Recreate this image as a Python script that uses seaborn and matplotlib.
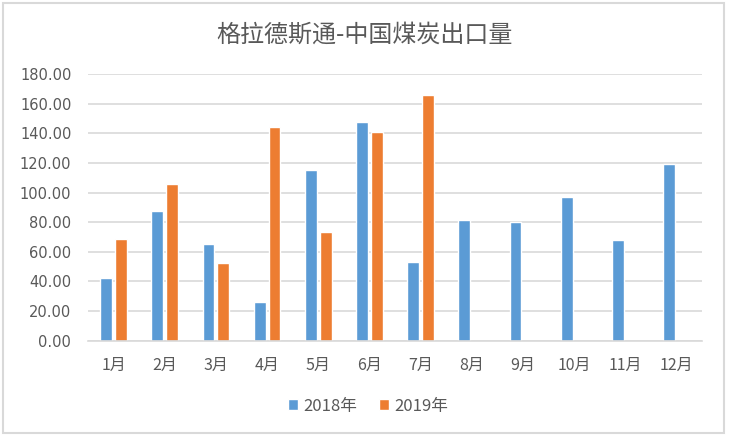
import matplotlib
matplotlib.use("Agg")
import matplotlib.pyplot as plt
import seaborn as sns
import pandas as pd
import numpy as np
from matplotlib.patches import Rectangle

months = ["1月", "2月", "3月", "4月", "5月", "6月", "7月", "8月", "9月", "10月", "11月", "12月"]
series_names = ["2018年", "2019年"]
values_2018 = [42.2, 87.6, 65.3, 26.2, 115.2, 147.6, 53.2, 81.5, 80.2, 97.2, 68.0, 119.5]
values_2019 = [68.7, 105.8, 52.5, 144.2, 73.4, 140.9, 165.9, np.nan, np.nan, np.nan, np.nan, np.nan]
y_ticks = [0, 20, 40, 60, 80, 100, 120, 140, 160, 180]
title = "格拉德斯通-中国煤炭出口量"

df = pd.DataFrame({
    "月份": months * 2,
    "年份": [series_names[0]] * len(months) + [series_names[1]] * len(months),
    "值": values_2018 + values_2019,
})

sns.set_theme(style="white")
plt.rcParams["font.family"] = ["Noto Sans CJK SC", "DejaVu Sans"]

W, H = 732, 441
fig = plt.figure(figsize=(W / 100, H / 100), dpi=100)
ax = fig.add_axes([88 / W, (H - 340.7) / H, (702 - 88) / W, (340.7 - 74) / H])

sns.barplot(data=df, x="月份", y="值", hue="年份", order=months, hue_order=series_names,
            palette=["#5B9BD5", "#ED7D31"], saturation=1, width=0.58, gap=0.2, ax=ax,
            legend=True)

ax.set_ylim(0, 180)
ax.set_xlim(-0.5, 11.5)
ax.set_yticks(y_ticks)
ax.set_yticklabels([f"{v:.2f}" for v in y_ticks], color="#595959", fontsize=10.5,
                   family=["DejaVu Sans"])
ax.set_xticks(range(len(months)))
ax.set_xticklabels(months, color="#595959", fontsize=11.5)
ax.tick_params(axis="y", length=0, pad=12)
ax.tick_params(axis="x", length=0, pad=12)
ax.set_xlabel("")
ax.set_ylabel("")
ax.yaxis.grid(True, color="#D9D9D9", linewidth=1.2)
ax.set_axisbelow(True)
for s in ["top", "right", "left"]:
    ax.spines[s].set_visible(False)
ax.spines["bottom"].set_color("#D9D9D9")
ax.spines["bottom"].set_linewidth(1.2)

handles, labels = ax.get_legend_handles_labels()
ax.get_legend().remove()
fig.legend(handles, labels, loc="center", bbox_to_anchor=(368 / W, 1 - 406 / H), ncol=2,
           frameon=False, fontsize=12, handlelength=0.6, handleheight=0.6,
           handletextpad=0.3, columnspacing=1.3, labelcolor="#595959")

fig.text(365 / W, 1 - 35 / H, title, ha="center", va="center", fontsize=17.3,
         color="#595959")

fig.patches.append(Rectangle((3 / W, (H - 433) / H), (724 - 3) / W, (433 - 3) / H,
                             transform=fig.transFigure, fill=False,
                             edgecolor="#D9D9D9", linewidth=1.5))

fig.savefig("out.png", dpi=100)
